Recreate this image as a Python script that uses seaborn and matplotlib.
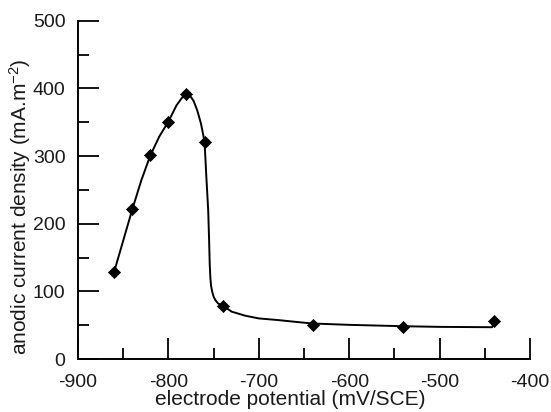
import numpy as np
import pandas as pd
import matplotlib
matplotlib.use("Agg")
import matplotlib.pyplot as plt
from matplotlib.ticker import MultipleLocator
import seaborn as sns

# measured points (diamond markers)
potential = [-860, -840, -820, -800, -780, -760, -740, -640, -540, -440]
current = [129, 221, 301, 351, 391, 321, 79, 51, 48, 56]

# hand-drawn fitted curve
curve_x = [-860, -840, -830, -820, -810, -800, -791, -785, -780, -776, -772, -768,
           -764, -760, -758, -756, -755, -754.3, -753.6, -752.8, -751.5, -750,
           -748, -745, -740, -730, -715, -700, -679, -660, -641, -600, -541, -500,
           -442, -441]
curve_y = [129, 221, 264, 301, 329, 351, 375, 386, 391, 389, 381, 367,
           348, 321, 268, 220, 176, 140, 120, 108, 99, 92,
           87, 82, 79, 70, 64, 60, 57.6, 55, 52.5, 50.5, 48.5, 47.5,
           47, 50]

pts = pd.DataFrame({"potential": potential, "current": current})
fit = pd.DataFrame({"potential": curve_x, "current": curve_y})

sns.set_style("ticks")
plt.rcParams["font.family"] = ["Liberation Sans", "DejaVu Sans"]
plt.rcParams["axes.unicode_minus"] = False
plt.rcParams["mathtext.fontset"] = "custom"
plt.rcParams["mathtext.rm"] = "Liberation Sans"
plt.rcParams["mathtext.it"] = "Liberation Sans:italic"

fig = plt.figure(figsize=(5.51, 4.12), dpi=100)
ax = fig.add_axes([0.1416, 0.1286, 0.8203, 0.8212])

sns.lineplot(data=fit, x="potential", y="current", sort=False, color="black",
             linewidth=1.4, ax=ax)
sns.scatterplot(data=pts, x="potential", y="current", marker="D", s=38,
                color="black", edgecolor="black", linewidth=0.5, zorder=3,
                clip_on=False, ax=ax)

ax.set_xlim(-900, -400)
ax.set_ylim(0, 500)
ax.xaxis.set_major_locator(MultipleLocator(100))
ax.xaxis.set_minor_locator(MultipleLocator(50))
ax.yaxis.set_major_locator(MultipleLocator(100))
ax.yaxis.set_minor_locator(MultipleLocator(50))
ax.tick_params(which="major", direction="in", length=15, width=1.3,
               labelsize=14, color="black", labelcolor="#1a1a1a")
ax.tick_params(which="minor", direction="in", length=8, width=1.3, color="black")
ax.tick_params(axis="y", which="major", pad=9)
ax.tick_params(axis="x", which="major", pad=11)

sns.despine(ax=ax)
for s in ["left", "bottom"]:
    ax.spines[s].set_linewidth(1.4)
    ax.spines[s].set_color("black")

ax.set_xlabel("electrode potential (mV/SCE)", fontsize=15, color="#1a1a1a")
ax.set_ylabel("anodic current density (mA.m$^{-2}$)", fontsize=15, color="#1a1a1a")
ax.xaxis.set_label_coords(0.469, -0.093)
ax.yaxis.set_label_coords(-0.1, 0.45)

fig.savefig("out.png", dpi=100)
